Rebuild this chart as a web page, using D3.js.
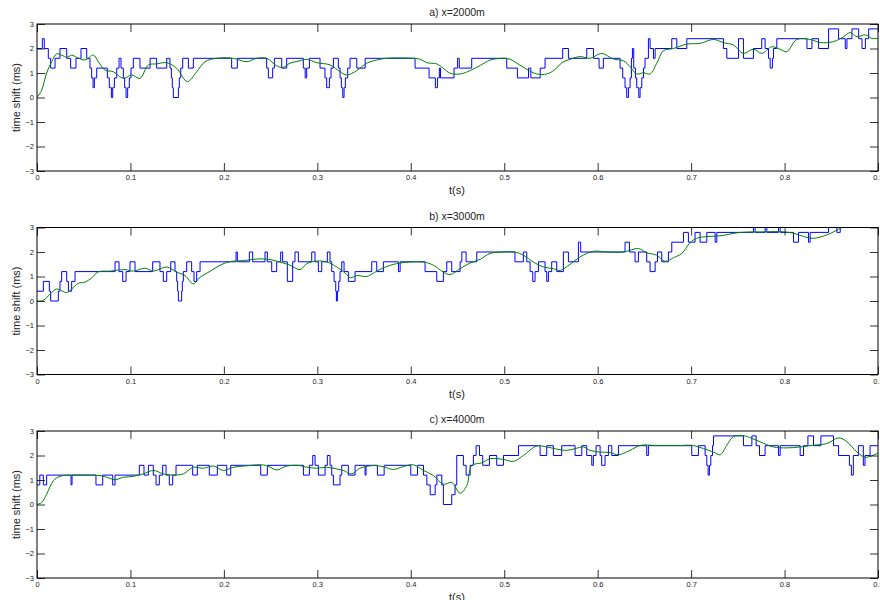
<!DOCTYPE html>
<html><head><meta charset="utf-8">
<script src="https://cdn.jsdelivr.net/npm/d3@7"></script>
<style>body{margin:0;background:#fff} text{font-family:"Liberation Sans",Arial,Helvetica,sans-serif}</style>
</head><body><svg id="c" width="880" height="600"></svg>
<script>
const xTicks=[0,0.1,0.2,0.3,0.4,0.5,0.6,0.7,0.8,0.9];
const yTicks=[-3,-2,-1,0,1,2,3];
const titles=["a) x=2000m","b) x=3000m","c) x=4000m"];
const xLabel="t(s)";
const yLabel="time shift (ms)";

// Panel a: picked time shift (blue, step) and smooth estimate (green)
const blueA=[[0,2.0],[0.0057,2.4],[0.0078,2.0],[0.0121,1.6],[0.0146,1.2],[0.0193,1.6],[0.0246,2.0],[0.0318,1.6],[0.036,1.2],[0.0417,1.6],[0.0471,2.0],[0.0532,1.6],[0.0567,1.2],[0.0585,0.8],[0.060,0.4],[0.0614,0.8],[0.0639,1.2],[0.0753,0.8],[0.0774,0.4],[0.0796,0],[0.081,0.4],[0.0828,0.8],[0.0853,1.2],[0.0878,1.6],[0.0899,1.2],[0.0924,0.8],[0.0938,0.4],[0.0953,0],[0.097,0.4],[0.0988,0.8],[0.1006,1.2],[0.1031,1.6],[0.1102,1.2],[0.121,1.6],[0.128,1.2],[0.1388,1.6],[0.1423,1.2],[0.1438,0.8],[0.1448,0.4],[0.1459,0],[0.1513,0.4],[0.1523,0.8],[0.1538,1.2],[0.1559,1.6],[0.162,1.2],[0.1673,1.6],[0.2083,1.2],[0.2144,1.6],[0.2458,1.2],[0.2476,0.8],[0.2522,1.2],[0.254,1.6],[0.2619,1.2],[0.2672,1.6],[0.285,1.2],[0.287,0.8],[0.2886,1.2],[0.2915,1.6],[0.3029,1.2],[0.3082,0.8],[0.31,0.4],[0.3129,0.8],[0.3147,1.2],[0.3172,1.6],[0.3225,1.2],[0.3243,0.8],[0.3257,0.4],[0.3272,0],[0.3286,0.4],[0.33,0.8],[0.3325,1.2],[0.335,1.6],[0.3422,1.2],[0.3512,1.6],[0.4046,1.2],[0.4196,0.8],[0.4263,0.4],[0.4285,0.8],[0.4306,1.2],[0.4318,0.8],[0.4463,1.2],[0.4501,1.6],[0.4519,1.2],[0.4652,1.6],[0.5027,1.2],[0.5141,0.8],[0.526,1.2],[0.5285,0.8],[0.5385,1.2],[0.5437,1.6],[0.5626,2.0],[0.5687,1.6],[0.5883,2.0],[0.5955,1.6],[0.6015,1.2],[0.6061,1.6],[0.624,1.2],[0.6268,0.8],[0.6293,0.4],[0.6311,0],[0.6329,0.4],[0.6347,0.8],[0.6361,1.6],[0.6372,2.0],[0.6386,1.2],[0.6404,0.8],[0.6418,0.4],[0.644,0],[0.6454,0.4],[0.6472,0.8],[0.649,1.2],[0.6507,1.6],[0.6543,2.4],[0.6561,2.0],[0.6597,1.6],[0.6615,2.0],[0.6793,2.4],[0.6847,2.0],[0.6954,2.4],[0.7346,2.0],[0.7382,1.6],[0.7507,2.4],[0.756,1.6],[0.7667,2.0],[0.7756,2.4],[0.7792,2.0],[0.7828,1.6],[0.7846,1.2],[0.787,1.6],[0.7882,2.0],[0.7917,2.4],[0.824,2.0],[0.8293,2.4],[0.8364,2.0],[0.8471,2.8],[0.8578,2.4],[0.865,2.0],[0.8668,2.4],[0.8721,2.8],[0.8793,2.4],[0.8829,2.0],[0.8865,2.4],[0.89,2.8],[0.9,2.8]];
const greenA=[[0,0],[0.005,0.3],[0.0103,1.0],[0.0157,1.46],[0.021,1.78],[0.0264,1.73],[0.0318,1.64],[0.0371,1.73],[0.0425,1.64],[0.0514,1.53],[0.0603,1.73],[0.0656,1.46],[0.0728,1.12],[0.0817,1.05],[0.0924,0.78],[0.1013,0.92],[0.1102,0.78],[0.1192,1.33],[0.128,1.37],[0.1388,1.42],[0.1495,1.19],[0.1609,0.65],[0.1709,1.05],[0.1798,1.46],[0.1923,1.6],[0.2101,1.6],[0.2244,1.46],[0.2351,1.6],[0.2458,1.6],[0.2565,1.29],[0.2636,1.23],[0.2708,1.4],[0.2815,1.5],[0.2886,1.56],[0.2994,1.42],[0.3136,1.33],[0.3243,1.05],[0.3315,0.92],[0.3422,1.1],[0.3529,1.4],[0.3636,1.53],[0.3743,1.6],[0.4029,1.6],[0.4101,1.56],[0.4172,1.42],[0.4279,1.37],[0.4349,1.19],[0.4421,0.99],[0.4528,0.96],[0.4636,1.1],[0.4743,1.31],[0.485,1.53],[0.4993,1.6],[0.5064,1.56],[0.5135,1.4],[0.5242,1.15],[0.5349,0.96],[0.5456,0.96],[0.5546,1.15],[0.5617,1.42],[0.5706,1.56],[0.5813,1.67],[0.5918,1.6],[0.6043,1.8],[0.6168,1.57],[0.6275,1.5],[0.6347,1.26],[0.6418,0.96],[0.649,1.01],[0.6561,0.96],[0.6633,1.4],[0.6704,1.91],[0.6811,2.0],[0.6954,2.18],[0.7097,2.21],[0.724,2.37],[0.7346,2.24],[0.7453,2.14],[0.756,1.8],[0.7667,1.97],[0.7756,1.8],[0.7863,2.07],[0.7952,1.97],[0.8024,1.87],[0.8131,2.37],[0.8274,2.37],[0.8381,2.24],[0.8524,2.28],[0.8631,2.48],[0.8703,2.65],[0.8775,2.48],[0.8864,2.56],[0.8936,2.41],[0.9,2.41]];

// Panel b
const blueB=[[0,0.4],[0.0068,0.8],[0.0132,0.4],[0.0146,0],[0.0228,0.4],[0.0246,0.8],[0.0264,1.2],[0.0318,0.8],[0.0336,0.4],[0.0371,0.8],[0.0407,1.2],[0.0835,1.6],[0.0878,1.2],[0.0917,0.8],[0.0953,1.2],[0.0995,1.6],[0.1049,1.2],[0.1238,1.6],[0.1316,1.2],[0.1352,0.8],[0.1388,1.2],[0.1431,1.6],[0.1477,1.2],[0.1495,0.8],[0.1505,0.4],[0.1513,0],[0.1548,0.4],[0.1555,0.8],[0.1566,1.2],[0.1602,1.6],[0.1655,1.2],[0.168,0.8],[0.1709,1.2],[0.1745,1.6],[0.213,2.0],[0.2144,1.6],[0.2273,2.0],[0.2308,1.6],[0.244,2.0],[0.2465,1.6],[0.2512,1.2],[0.2565,1.6],[0.2608,2.0],[0.2629,1.6],[0.2679,0.8],[0.2736,1.6],[0.2761,2.0],[0.2797,1.6],[0.294,2.0],[0.2975,1.6],[0.3011,1.2],[0.3047,1.6],[0.3107,2.0],[0.3136,1.6],[0.3154,1.2],[0.3179,0.8],[0.3197,0.4],[0.3204,0],[0.3215,0.4],[0.3229,0.8],[0.3243,1.2],[0.3261,1.6],[0.3286,1.2],[0.3332,0.8],[0.3404,1.2],[0.3582,1.6],[0.3636,1.2],[0.3707,1.6],[0.3868,1.2],[0.3886,1.6],[0.4153,1.2],[0.4278,0.8],[0.4349,1.2],[0.4385,1.6],[0.4438,1.2],[0.4528,1.6],[0.4546,2.0],[0.4592,1.6],[0.4706,2.0],[0.5115,1.6],[0.5205,2.0],[0.5241,1.6],[0.5277,1.2],[0.5305,0.8],[0.533,1.2],[0.5366,1.6],[0.5437,1.2],[0.5455,0.8],[0.5473,1.2],[0.5508,1.6],[0.5562,1.2],[0.5633,2.0],[0.5687,1.6],[0.5794,2.4],[0.5818,2.0],[0.6293,2.4],[0.634,2.0],[0.64,1.6],[0.6436,2.0],[0.6525,1.6],[0.6561,1.2],[0.6615,1.6],[0.664,2.0],[0.6686,1.6],[0.6757,2.0],[0.6793,2.4],[0.6918,2.8],[0.6971,2.4],[0.7042,2.8],[0.7096,2.4],[0.7168,2.8],[0.7257,2.4],[0.7275,2.8],[0.7667,3.2],[0.7685,2.8],[0.7792,3.2],[0.781,2.8],[0.7935,3.2],[0.7953,2.8],[0.8096,2.4],[0.8149,2.8],[0.8256,2.4],[0.8274,2.8],[0.8471,3.2],[0.856,2.8],[0.8596,3.2],[0.861,3.2]];
const greenB=[[0,0],[0.0068,0.03],[0.0139,0.28],[0.021,0.49],[0.0264,0.42],[0.0318,0.34],[0.0371,0.49],[0.0442,0.72],[0.0514,0.77],[0.0585,0.94],[0.0656,1.19],[0.0781,1.22],[0.0942,1.28],[0.1031,1.22],[0.1156,1.34],[0.1245,1.22],[0.1388,1.39],[0.1495,1.18],[0.1584,1.04],[0.1673,0.7],[0.1745,0.97],[0.1852,1.21],[0.1959,1.46],[0.2066,1.61],[0.2208,1.65],[0.2387,1.72],[0.2494,1.69],[0.2601,1.59],[0.2708,1.46],[0.2815,1.28],[0.2886,1.52],[0.2993,1.63],[0.3104,1.59],[0.3208,1.39],[0.3297,1.14],[0.3354,0.95],[0.3422,1.04],[0.3529,1.0],[0.3636,1.22],[0.3743,1.41],[0.3886,1.55],[0.4136,1.59],[0.4242,1.46],[0.4349,1.18],[0.442,1.08],[0.4528,1.32],[0.4635,1.55],[0.4742,1.7],[0.4849,1.94],[0.4991,2.0],[0.5116,2.0],[0.5205,1.87],[0.5312,1.59],[0.542,1.39],[0.5526,1.32],[0.5598,1.25],[0.5705,1.5],[0.5812,1.8],[0.5954,2.03],[0.6097,2.0],[0.6275,2.0],[0.6436,2.14],[0.6525,1.97],[0.6632,1.87],[0.6722,1.62],[0.6811,1.77],[0.69,1.94],[0.6989,2.38],[0.706,2.56],[0.7168,2.63],[0.731,2.66],[0.7524,2.8],[0.7738,2.82],[0.7953,2.83],[0.8096,2.77],[0.8203,2.63],[0.831,2.56],[0.8453,2.7],[0.8613,3.0]];

// Panel c
const blueC=[[0,0.8],[0.003,1.2],[0.0068,0.8],[0.0103,1.2],[0.0364,0.8],[0.0375,1.2],[0.0631,0.8],[0.0703,1.2],[0.081,0.8],[0.0835,1.2],[0.1095,1.6],[0.1145,1.2],[0.1192,1.6],[0.1245,1.2],[0.1274,0.8],[0.1309,1.2],[0.1345,1.6],[0.1381,1.2],[0.1416,0.8],[0.1452,1.2],[0.1488,1.6],[0.1666,1.2],[0.1716,1.6],[0.1844,1.2],[0.193,1.6],[0.203,1.2],[0.2073,1.6],[0.2394,1.2],[0.2465,1.6],[0.2851,1.2],[0.2915,1.6],[0.2951,2.0],[0.2976,1.6],[0.3011,1.2],[0.3083,1.6],[0.3107,2.0],[0.3136,1.6],[0.3154,1.2],[0.3172,0.8],[0.3243,1.2],[0.3261,1.6],[0.3332,1.2],[0.3404,1.6],[0.3511,1.2],[0.3521,1.6],[0.3643,1.2],[0.3715,1.6],[0.4,1.2],[0.4072,1.6],[0.4136,1.2],[0.4172,0.8],[0.4208,0.4],[0.4261,0.8],[0.4279,1.2],[0.4332,0.8],[0.4349,0],[0.4438,0.4],[0.4474,0.8],[0.4492,2.0],[0.4563,1.6],[0.4592,1.2],[0.4635,1.6],[0.467,2.0],[0.4699,2.4],[0.4735,2.0],[0.477,1.6],[0.4842,2.0],[0.492,1.6],[0.4992,2.0],[0.5152,2.4],[0.5384,2.0],[0.5455,2.4],[0.5526,2.0],[0.5615,2.4],[0.5758,2.0],[0.583,2.4],[0.5883,2.0],[0.5937,1.6],[0.5954,2.0],[0.5983,2.4],[0.6026,2.0],[0.6043,1.6],[0.6079,2.0],[0.6115,2.4],[0.6151,2.0],[0.6222,2.4],[0.6525,2.0],[0.6543,2.4],[0.7007,2.0],[0.7078,2.4],[0.715,2.0],[0.7168,1.6],[0.7182,1.2],[0.7196,1.6],[0.7211,2.0],[0.7229,2.4],[0.724,2.8],[0.756,2.4],[0.765,2.8],[0.7696,2.4],[0.7732,2.0],[0.7792,2.4],[0.7935,2.0],[0.7953,2.4],[0.8167,2.0],[0.8203,2.4],[0.825,2.8],[0.831,2.4],[0.8389,2.8],[0.8524,2.4],[0.8578,2.0],[0.8694,1.6],[0.8715,1.2],[0.8736,2.0],[0.879,2.4],[0.8843,1.6],[0.8861,2.0],[0.8915,2.4],[0.9,2.4]];
const greenC=[[0,0],[0.005,0.08],[0.0103,0.42],[0.0175,0.97],[0.0246,1.15],[0.0353,1.2],[0.0496,1.2],[0.0674,1.18],[0.0781,1.07],[0.0835,1.01],[0.0924,1.11],[0.1031,1.15],[0.1138,1.25],[0.1245,1.39],[0.1352,1.25],[0.1459,1.2],[0.1566,1.25],[0.1673,1.52],[0.178,1.48],[0.1887,1.57],[0.1994,1.39],[0.2101,1.52],[0.2244,1.58],[0.2387,1.62],[0.2458,1.59],[0.2565,1.41],[0.2672,1.57],[0.2815,1.59],[0.2851,1.55],[0.2993,1.48],[0.3101,1.52],[0.3208,1.45],[0.3279,1.39],[0.3368,1.25],[0.3457,1.48],[0.36,1.59],[0.3707,1.54],[0.3814,1.43],[0.3921,1.55],[0.4028,1.62],[0.4136,1.39],[0.4243,1.18],[0.4349,0.83],[0.4438,0.9],[0.4528,0.46],[0.4599,0.77],[0.4653,1.59],[0.476,1.7],[0.4849,1.87],[0.4992,1.84],[0.5098,1.76],[0.5205,2.0],[0.5348,2.39],[0.5455,2.35],[0.5562,2.26],[0.5669,2.21],[0.5758,2.28],[0.5847,2.35],[0.5918,2.21],[0.6026,2.14],[0.6133,2.12],[0.6222,2.03],[0.6347,2.21],[0.6454,2.41],[0.6633,2.41],[0.6882,2.41],[0.7025,2.41],[0.7132,2.28],[0.724,2.14],[0.7311,2.03],[0.7382,2.42],[0.7453,2.77],[0.756,2.81],[0.7649,2.7],[0.7738,2.56],[0.7881,2.35],[0.8024,2.31],[0.8167,2.35],[0.831,2.42],[0.8453,2.49],[0.8578,2.72],[0.8668,2.56],[0.8775,2.14],[0.8864,1.93],[0.9,2.1]];

const panels=[
  {title:titles[0],blue:blueA,green:greenA},
  {title:titles[1],blue:blueB,green:greenB},
  {title:titles[2],blue:blueC,green:greenC}
];

const svg=d3.select("#c");
const left=37,right=878,ph=147;
const tops=[24,227.5,431];
const tickLen=8;
const x=d3.scaleLinear().domain([0,0.9]).range([left,right]);
const fmtX=d=>d===0?"0":d3.format(".1f")(d);

panels.forEach((p,i)=>{
  const top=tops[i], bot=top+ph;
  const y=d3.scaleLinear().domain([-3,3]).range([bot,top]);
  const g=svg.append("g");
  const cid="clip"+i;
  g.append("clipPath").attr("id",cid).append("rect")
    .attr("x",left).attr("y",top).attr("width",right-left).attr("height",ph);

  const plot=g.append("g").attr("clip-path",`url(#${cid})`);
  plot.append("path").datum(p.blue)
    .attr("fill","none").attr("stroke","#0000ff").attr("stroke-width",1)
    .attr("d",d3.line().x(d=>x(d[0])).y(d=>y(d[1])).curve(d3.curveStepAfter));
  plot.append("path").datum(p.green)
    .attr("fill","none").attr("stroke","#008000").attr("stroke-width",1)
    .attr("d",d3.line().x(d=>x(d[0])).y(d=>y(d[1])).curve(d3.curveCatmullRom.alpha(0.5)));

  const styleAxis=sel=>{
    sel.select(".domain").remove();
    sel.selectAll(".tick line").attr("stroke","#000").attr("stroke-width",0.8);
    sel.selectAll(".tick text").attr("fill","#222").style("font-size","7.5px")
      .style("font-family","'Liberation Sans',Arial,sans-serif");
  };
  g.append("g").attr("transform",`translate(0,${bot})`)
    .call(d3.axisBottom(x).tickValues(xTicks).tickFormat(fmtX).tickSize(-tickLen).tickPadding(4))
    .call(styleAxis);
  g.append("g").attr("transform",`translate(0,${top})`)
    .call(d3.axisTop(x).tickValues(xTicks).tickFormat("").tickSize(-tickLen))
    .call(styleAxis);
  g.append("g").attr("transform",`translate(${left},0)`)
    .call(d3.axisLeft(y).tickValues(yTicks).tickFormat(d3.format("d")).tickSize(-tickLen).tickPadding(3))
    .call(styleAxis);
  g.append("g").attr("transform",`translate(${right},0)`)
    .call(d3.axisRight(y).tickValues(yTicks).tickFormat("").tickSize(-tickLen))
    .call(styleAxis);

  g.append("rect").attr("x",left).attr("y",top).attr("width",right-left).attr("height",ph)
    .attr("fill","none").attr("stroke","#000").attr("stroke-width",1);

  g.append("text").attr("x",457).attr("y",top-8).attr("text-anchor","middle")
    .style("font-size","10.5px").attr("fill","#222").text(p.title);
  g.append("text").attr("x",457).attr("y",bot+23).attr("text-anchor","middle")
    .style("font-size","11px").attr("fill","#222").text(xLabel);
  g.append("text").attr("transform",`translate(20,${top+ph/2}) rotate(-90)`)
    .attr("text-anchor","middle").style("font-size","11px").attr("fill","#222").text(yLabel);
});
</script></body></html>
